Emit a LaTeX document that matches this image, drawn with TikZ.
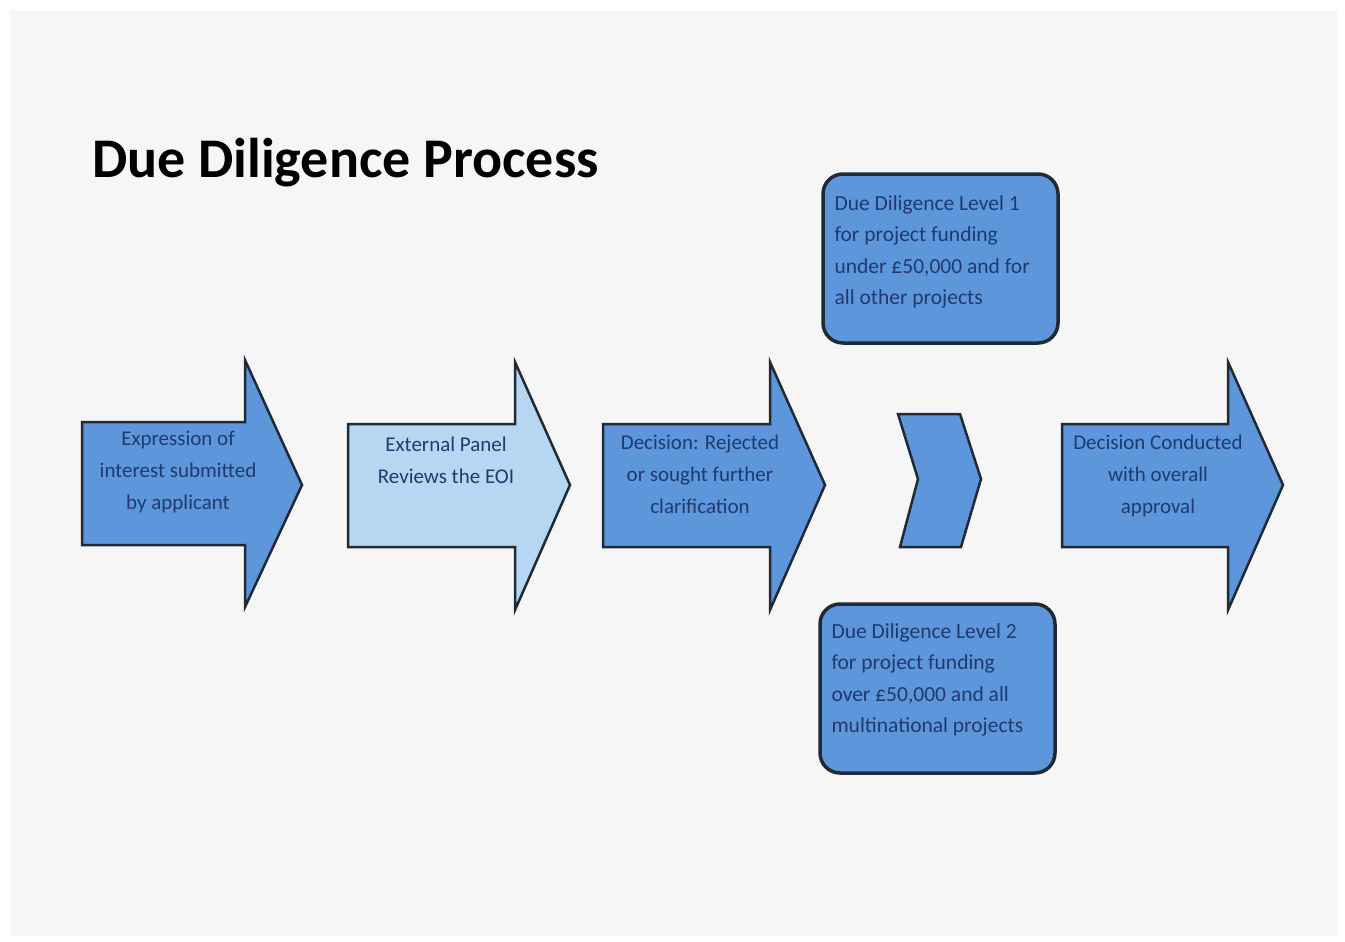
\documentclass[tikz,border=0pt]{standalone}
\usepackage{fontspec}
\setmainfont{Carlito}
\definecolor{bg}{HTML}{F6F6F6}
\definecolor{midblue}{HTML}{5E96DC}
\definecolor{paleblue}{HTML}{B6D6F2}
\definecolor{edge}{HTML}{1E2A36}
\definecolor{ink}{HTML}{1F3A6E}
\tikzset{
  arrowshape/.style={draw=edge, line width=2.5pt, line join=miter},
  boxshape/.style={draw=edge, line width=3.5pt, fill=midblue, rounded corners=20pt},
  arrowtext/.style={font=\fontsize{21}{32}\selectfont, text=ink, align=center, anchor=north},
  boxtext/.style={font=\fontsize{21.5}{31.5}\selectfont, text=ink, align=left, anchor=north west},
}
\begin{document}
\begin{tikzpicture}[x=1pt,y=-1pt]
\useasboundingbox (0,0) rectangle (1345,942);
\fill[white] (0,0) rectangle (1345,942);
\fill[bg] (10,10) rectangle (1338,936);
% title
\node[anchor=base west, font=\fontsize{56}{64}\selectfont\bfseries, inner sep=0pt] (title) at (92,177) {Due Diligence Process};
% arrow 1
\draw[arrowshape, fill=midblue] (82,422) -- (245,422) -- (245,360) -- (302,485) -- (245,607) -- (245,545) -- (82,545) -- cycle;
\node[arrowtext] (t1) at (178,428) {Expression of\\interest submitted\\by applicant};
% arrow 2
\draw[arrowshape, fill=paleblue] (348,424) -- (515,424) -- (515,362) -- (570,485) -- (515,610) -- (515,547) -- (348,547) -- cycle;
\node[arrowtext] (t2) at (446,433) {External Panel\\Reviews the EOI};
% arrow 3
\draw[arrowshape, fill=midblue] (603,424) -- (770,424) -- (770,362) -- (825,485) -- (770,610) -- (770,547) -- (603,547) -- cycle;
\node[arrowtext] (t3) at (700,431) {Decision: Rejected\\or sought further\\clarification};
% chevron
\draw[arrowshape, fill=midblue] (898,414) -- (960,414) -- (981,479) -- (961,547) -- (900,547) -- (918,479) -- cycle;
\coordinate (chev) at (940,480);
% arrow 5
\draw[arrowshape, fill=midblue] (1062,424) -- (1228,424) -- (1228,362) -- (1283,485) -- (1228,610) -- (1228,547) -- (1062,547) -- cycle;
\node[arrowtext] (t5) at (1158,431) {Decision Conducted\\with overall\\approval};
% top box
\draw[boxshape] (823,174) rectangle (1058,343);
\node[boxtext] (b1) at (831,192) {Due Diligence Level 1\\for project funding\\under £50,000 and for\\all other projects};
% bottom box
\draw[boxshape] (820,604) rectangle (1055,773);
\node[boxtext] (b2) at (828,620) {Due Diligence Level 2\\for project funding\\over £50,000 and all\\multinational projects};
\end{tikzpicture}
\end{document}
